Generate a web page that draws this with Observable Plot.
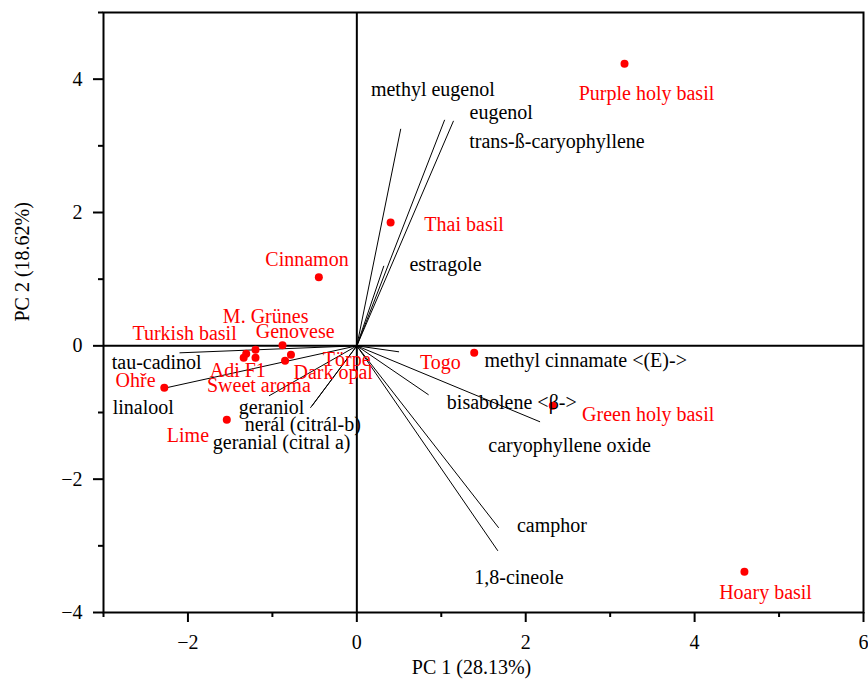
<!DOCTYPE html>
<html>
<head>
<meta charset="utf-8">
<script src="https://cdn.jsdelivr.net/npm/d3@7"></script>
<script src="https://cdn.jsdelivr.net/npm/@observablehq/plot@0.6"></script>
<style>
  html, body { margin: 0; padding: 0; background: white; }
  #chart svg, #chart svg text, #chart svg tspan { font-family: "Liberation Serif", "Times New Roman", serif !important; }
</style>
</head>
<body>
<div id="chart"></div>
<script>
// Samples (scores)
const sampleNames = ["Purple holy basil", "Thai basil", "Cinnamon", "Genovese", "M. Grünes", "Turkish basil", "Adi F1", "Sweet aroma", "Törpe", "Dark opal", "Ohře", "Lime", "Togo", "Green holy basil", "Hoary basil"];
const samplePC1 = [3.17, 0.40, -0.45, -0.88, -1.20, -1.31, -1.34, -1.20, -0.78, -0.85, -2.28, -1.54, 1.39, 2.32, 4.59];
const samplePC2 = [4.23, 1.85, 1.03, 0.01, -0.06, -0.12, -0.18, -0.18, -0.135, -0.225, -0.63, -1.11, -0.105, -0.90, -3.39];
const sampleLabelPC1 = [3.43, 1.27, -0.59, -0.73, -1.08, -2.04, -1.41, -1.16, -0.12, -0.28, -2.62, -2.00, 0.99, 3.45, 4.84];
const sampleLabelPC2 = [3.79, 1.82, 1.30, 0.21, 0.44, 0.18, -0.365, -0.60, -0.20, -0.40, -0.525, -1.35, -0.25, -1.035, -3.70];

// Compounds (loadings)
const loadingNames = ["methyl eugenol", "eugenol", "trans-ß-caryophyllene", "estragole", "tau-cadinol", "linalool", "geraniol", "nerál (citrál-b)", "geranial (citral a)", "methyl cinnamate <(E)->", "bisabolene <β->", "caryophyllene oxide", "camphor", "1,8-cineole"];
const loadingPC1 = [0.52, 1.04, 1.145, 0.32, -2.10, -2.26, -1.04, -0.53, -0.55, 0.50, 0.85, 2.17, 1.68, 1.67];
const loadingPC2 = [3.255, 3.39, 3.375, 1.20, -0.105, -0.63, -0.75, -0.90, -0.93, -0.09, -0.735, -1.14, -2.73, -3.075];
const loadingLabelPC1 = [0.90, 1.71, 2.37, 1.05, -2.37, -2.53, -1.01, -0.64, -0.89, 2.71, 1.835, 2.52, 2.31, 1.92];
const loadingLabelPC2 = [3.85, 3.50, 3.06, 1.225, -0.25, -0.925, -0.925, -1.185, -1.45, -0.215, -0.85, -1.50, -2.70, -3.475];

// Axes
const xMajorTicks = [-2, 0, 2, 4, 6];
const xMinorTicks = [-3, -1, 1, 3, 5];
const yMajorTicks = [-4, -2, 0, 2, 4];
const yMinorTicks = [-3, -1, 1, 3, 5];
const xTitle = "PC 1 (28.13%)";
const yTitle = "PC 2 (18.62%)";

const fmt = d => d < 0 ? "\u2212" + (-d) : String(d);
const samples = sampleNames.map((name, i) => ({name, x: samplePC1[i], y: samplePC2[i], lx: sampleLabelPC1[i], ly: sampleLabelPC2[i]}));
const loadings = loadingNames.map((name, i) => ({name, x: loadingPC1[i], y: loadingPC2[i], lx: loadingLabelPC1[i], ly: loadingLabelPC2[i]}));

const chart = Plot.plot({
  width: 868,
  height: 681,
  marginLeft: 103,
  marginRight: 5,
  marginTop: 12,
  marginBottom: 69,
  style: "font-family: 'Liberation Serif', 'Times New Roman', serif; font-size: 20px; background: white; color: black;",
  x: {domain: [-3, 6], label: null},
  y: {domain: [-4, 5], label: null},
  marks: [
    Plot.ruleX([0], {strokeWidth: 2}),
    Plot.ruleY([0], {strokeWidth: 2}),
    Plot.link(loadings, {x1: d => 0, y1: d => 0, x2: "x", y2: "y", stroke: "black", strokeWidth: 1}),
    Plot.dot(samples, {x: "x", y: "y", r: 4, fill: "#ff0000", stroke: null}),
    Plot.text(samples, {x: "lx", y: "ly", text: "name", fill: "#ff0000", fontSize: 20, textAnchor: "middle", lineAnchor: "middle"}),
    Plot.text(loadings, {x: "lx", y: "ly", text: "name", fill: "black", fontSize: 20, textAnchor: "middle", lineAnchor: "middle"}),
    Plot.frame({strokeWidth: 2}),
    Plot.axisX(xMajorTicks, {tickSize: 10, tickPadding: 12, strokeWidth: 2, fontSize: 20, tickFormat: fmt, label: null}),
    Plot.axisX(xMinorTicks, {tickSize: 5, strokeWidth: 2, tickFormat: () => "", label: null}),
    Plot.axisY(yMajorTicks, {tickSize: 10, tickPadding: 11, strokeWidth: 2, fontSize: 20, tickFormat: fmt, label: null}),
    Plot.axisY(yMinorTicks, {tickSize: 5, strokeWidth: 2, tickFormat: () => "", label: null}),
    Plot.text([xTitle], {frameAnchor: "bottom", dy: 55, dx: -12, fontSize: 20, lineAnchor: "middle", text: d => d}),
    Plot.text([yTitle], {frameAnchor: "left", rotate: -90, dx: -81, dy: 9, fontSize: 20, lineAnchor: "middle", text: d => d})
  ]
});
document.getElementById("chart").appendChild(chart);
</script>
</body>
</html>
